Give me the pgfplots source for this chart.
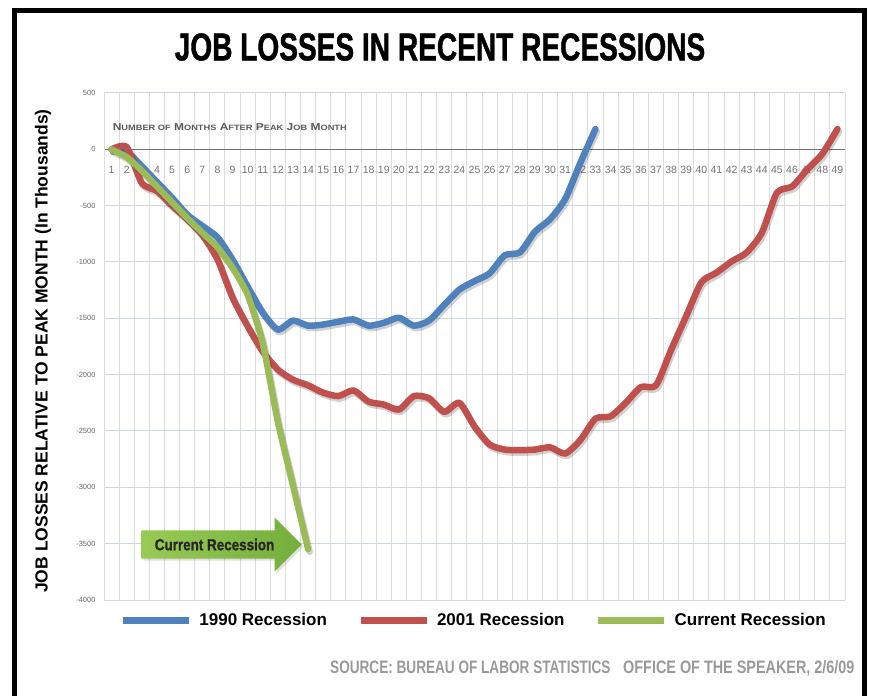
\documentclass[border=0pt]{standalone}
\usepackage{pgfplots}
\pgfplotsset{compat=1.18}
\usepackage{pgfplotstable}
\usepackage{fontspec}
\setmainfont{Liberation Sans}
\newfontfamily\condfont[FakeStretch=0.72,FakeBold=1]{Liberation Sans}
\newfontfamily\srcfont[FakeStretch=0.755]{Liberation Sans}
\newfontfamily\srcfontb[FakeStretch=0.80]{Liberation Sans}
\newfontfamily\arrfont[FakeStretch=0.84,FakeBold=1]{Liberation Sans}
\newfontfamily\notefont[FakeStretch=1.2]{Liberation Sans}
\usetikzlibrary{shapes.arrows,shadows}

\definecolor{ser90}{HTML}{4F81BD}
\definecolor{ser01}{HTML}{C0504D}
\definecolor{sercur}{HTML}{9BBB59}
\definecolor{vgrid}{HTML}{DCDCDC}
\definecolor{hgrid}{HTML}{CCD6E0}
\definecolor{arrowL}{HTML}{98CA55}
\definecolor{arrowR}{HTML}{74AE3B}

% fake small caps for the axis note
\newcommand\fsc[2]{{\fontsize{10}{10}\selectfont #1}{\fontsize{7.7}{8}\selectfont #2}}

% months after peak vs. job losses (thousands)
\pgfplotstableread{
m v
1 0
2 -20
3 -150
4 -290
5 -430
6 -580
7 -680
8 -780
9 -980
10 -1220
11 -1450
12 -1600
13 -1520
14 -1565
15 -1555
16 -1530
17 -1510
18 -1565
19 -1540
20 -1495
21 -1565
22 -1520
23 -1380
24 -1245
25 -1170
26 -1100
27 -940
28 -915
29 -730
30 -620
31 -440
32 -120
33 180
}\recA

\pgfplotstableread{
m v
1 0
2 20
3 -300
4 -370
5 -500
6 -620
7 -760
8 -975
9 -1315
10 -1570
11 -1795
12 -1955
13 -2045
14 -2095
15 -2160
16 -2190
17 -2140
18 -2240
19 -2265
20 -2310
21 -2190
22 -2210
23 -2330
24 -2250
25 -2460
26 -2620
27 -2665
28 -2670
29 -2665
30 -2645
31 -2700
32 -2580
33 -2390
34 -2370
35 -2250
36 -2110
37 -2095
38 -1780
39 -1480
40 -1180
41 -1095
42 -995
43 -915
44 -740
45 -385
46 -330
47 -180
48 -40
49 180
}\recB

\pgfplotstableread{
m v
1 0
2 -70
3 -190
4 -330
5 -470
6 -610
7 -740
8 -870
9 -1050
10 -1290
11 -1720
12 -2420
13 -2985
14 -3550
}\recC

\begin{document}
\begin{tikzpicture}
\useasboundingbox (0,0) rectangle (869pt,696pt);
\draw[line width=5pt] (14.5pt,0) -- (14.5pt,685.5pt) -- (864.5pt,685.5pt) -- (864.5pt,0);

\node at (440pt,649pt) {\condfont\bfseries\fontsize{39}{40}\selectfont JOB LOSSES IN RECENT RECESSIONS};
\node[rotate=90] at (43pt,345pt) {\bfseries\fontsize{17.5}{18}\selectfont JOB LOSSES RELATIVE TO PEAK MONTH (In Thousands)};
\node[anchor=base west, inner sep=0pt, text=black!40] (src) at (330pt,23pt) {\srcfont\bfseries\fontsize{18}{18}\selectfont SOURCE: BUREAU OF LABOR STATISTICS};
\node[anchor=base west, inner sep=0pt, text=black!40] at (623pt,23pt) {\srcfontb\bfseries\fontsize{18}{18}\selectfont OFFICE OF THE SPEAKER, 2/6/09};

\begin{axis}[
  at={(104pt,96pt)}, anchor=south west,
  scale only axis, width=741pt, height=507pt,
  xmin=0.5, xmax=49.5, ymin=-4000, ymax=500,
  axis x line=middle, axis y line=left,
  hide obscured x ticks=false, hide obscured y ticks=false,
  x axis line style={-, draw=black!55, line width=1pt},
  y axis line style={-, draw=vgrid, line width=1pt},
  xtick={1,...,49}, minor xtick={0.5,1.5,...,49.5},
  ytick={-4000,-3500,...,500},
  yticklabels={-4000,-3500,-3000,-2500,-2000,-1500,-1000,-500,0,500},
  /pgf/number format/assume math mode=true,
  major tick length=0pt, minor tick length=0pt,
  xminorgrids, ymajorgrids,
  minor x grid style={draw=vgrid, line width=1pt},
  major y grid style={draw=hgrid, line width=1pt},
  xticklabel style={font=\fontsize{10.5}{10.5}\selectfont, text=black!55, yshift=-13pt},
  yticklabel style={font=\fontsize{7.5}{8}\selectfont, text=black!60, xshift=-5pt},
  clip=false,
  legend style={at={(0.4988,-0.018)}, anchor=north, draw=none, fill=none,
    legend columns=3, font=\bfseries\fontsize{17}{18}\selectfont,
    /tikz/every even column/.append style={column sep=28pt},
    /tikz/every odd column/.append style={column sep=5pt}},
  legend image code/.code={\draw[#1, line width=7pt, line cap=butt] (0pt,0pt) -- (66pt,0pt);},
  every axis plot/.append style={line width=6.5pt, line join=round, line cap=round},
]
\addplot[black, opacity=0.18, smooth, tension=0.4, xshift=1.5pt, yshift=-2.5pt, forget plot] table[x=m, y=v] {\recA};
\addplot[ser90, smooth, tension=0.4] table[x=m, y=v] {\recA};
\addlegendentry{1990 Recession}
\addplot[black, opacity=0.18, smooth, tension=0.4, xshift=1.5pt, yshift=-2.5pt, forget plot] table[x=m, y=v] {\recB};
\addplot[ser01, smooth, tension=0.4] table[x=m, y=v] {\recB};
\addlegendentry{2001 Recession}
\addplot[black, opacity=0.18, smooth, tension=0.3, xshift=1.5pt, yshift=-2.5pt, forget plot] table[x=m, y=v] {\recC};
\addplot[sercur, smooth, tension=0.3] table[x=m, y=v] {\recC};
\addlegendentry{Current Recession}

\node[anchor=west, text=black!65] at (axis cs:0.85,195) {\notefont\bfseries\fsc{N}{UMBER OF} \fsc{M}{ONTHS} \fsc{A}{FTER} \fsc{P}{EAK} \fsc{J}{OB} \fsc{M}{ONTH}};

\node[single arrow, single arrow head extend=13pt, minimum height=160pt,
  inner xsep=3pt, inner ysep=8pt, left color=arrowL, right color=arrowR,
  drop shadow={opacity=0.25, shadow xshift=2pt, shadow yshift=-2pt}]
  at (axis cs:7.81,-3508) {\arrfont\bfseries\fontsize{16}{16}\selectfont\color{black!85}Current Recession};
\end{axis}
\end{tikzpicture}
\end{document}
